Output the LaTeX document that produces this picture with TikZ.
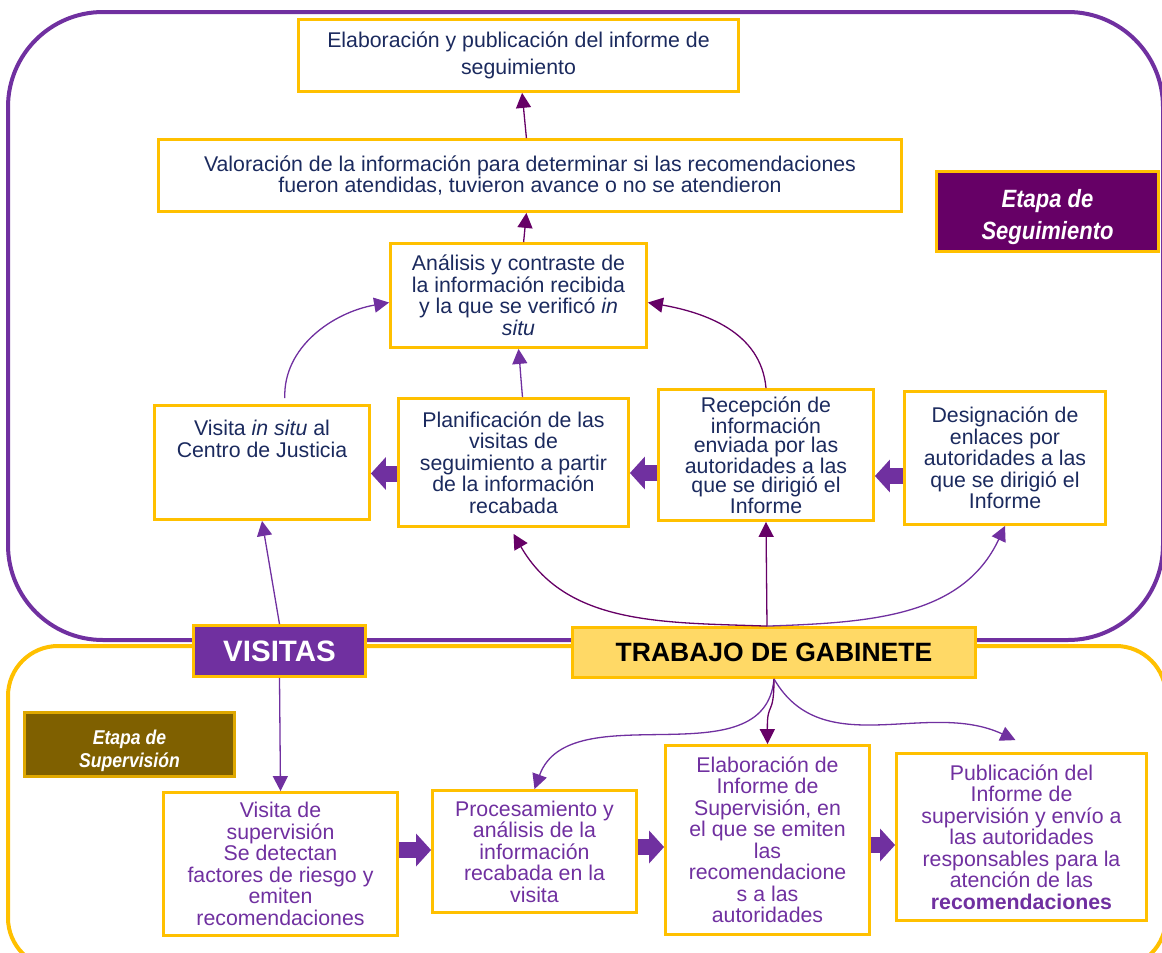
\documentclass[tikz,border=0pt]{standalone}
\usepackage{fontspec}
\setmainfont{Liberation Sans}
\newfontfamily\narrowfont[FakeStretch=0.88]{Liberation Sans}
\usetikzlibrary{arrows.meta}

\definecolor{purp}{HTML}{7030A0}
\definecolor{plum}{HTML}{660066}
\definecolor{gold}{HTML}{FFC000}
\definecolor{lightgold}{HTML}{FFD966}
\definecolor{olive}{HTML}{7F6000}
\definecolor{navy}{HTML}{1B2A5E}

\tikzset{
  box/.style={draw=gold, line width=2.8pt, fill=white, inner sep=0pt, align=center,
    text=navy, font=\fontsize{21.3}{21.5}\selectfont},
  supbox/.style={box, text=purp},
  tag/.style={draw=gold, line width=2.8pt, inner sep=0pt, align=center, text=white},
  linkd/.style={draw=plum, line width=1.3pt, -{Triangle[length=15pt,width=15pt]}},
  linkp/.style={draw=purp, line width=1.3pt, -{Triangle[length=15pt,width=15pt]}},
  fatarrow/.style={draw=purp, line width=16pt, -{Triangle[length=15pt,width=32pt]}},
}

\begin{document}
\begin{tikzpicture}[x=1pt,y=1pt]
\clip (0,0) rectangle (1162,-953);

% the two stages
\draw[purp, line width=4pt, rounded corners=95pt] (8,-12) rectangle (1163,-640);
\draw[gold, line width=4pt, rounded corners=50pt] (8,-646) rectangle (1166,-968);

% Etapa de Seguimiento
\node[box, minimum width=440pt, minimum height=72pt] (inf) at (518.5,-55.5)
  {Elaboración y publicación del informe de\\[5.5pt]seguimiento};
\node[box, minimum width=743pt, minimum height=72pt] (val) at (530,-175.5)
  {Valoración de la información para determinar si las recomendaciones\\fueron atendidas, tuvieron avance o no se atendieron};
\node[tag, fill=plum, minimum width=222pt, minimum height=80pt, text height=62pt,
  font=\narrowfont\bfseries\itshape\fontsize{25}{32}\selectfont] (etseg) at (1047.5,-211.5)
  {Etapa de\\Seguimiento};
\node[box, minimum width=256pt, minimum height=104pt] (anal) at (518.5,-295.5)
  {Análisis y contraste de\\la información recibida\\y la que se verificó \textit{in}\\\textit{situ}};
\node[box, minimum width=215pt, minimum height=114pt, text depth=47pt] (visin) at (262,-462.5)
  {Visita \textit{in situ} al\\Centro de Justicia};
\node[box, minimum width=230pt, minimum height=128pt] (plan) at (513.5,-462.5)
  {Planificación de las\\visitas de\\seguimiento a partir\\de la información\\recabada};
\node[box, minimum width=215pt, minimum height=131pt, font=\fontsize{21.3}{19}\selectfont] (recep) at (766,-455)
  {Recepción de\\información\\enviada por las\\autoridades a las\\que se dirigió el\\Informe};
\node[box, minimum width=201pt, minimum height=133pt] (desig) at (1005,-458)
  {Designación de\\enlaces por\\autoridades a las\\que se dirigió el\\Informe};

% cabeceras
\node[tag, fill=purp, minimum width=172pt, minimum height=51pt,
  font=\bfseries\fontsize{29.5}{30}\selectfont] (vis) at (279.5,-651) {VISITAS};
\node[tag, fill=lightgold, text=black, minimum width=403pt, minimum height=50pt,
  font=\bfseries\fontsize{26.5}{28}\selectfont] (gab) at (774,-652.5) {TRABAJO DE GABINETE};

% Etapa de Supervision
\node[tag, draw=gold!75!olive, fill=olive, minimum width=210pt, minimum height=64pt, text height=50pt,
  font=\narrowfont\bfseries\itshape\fontsize{20}{23}\selectfont] (etsup) at (129.5,-744.5)
  {Etapa de\\Supervisión};
\node[supbox, minimum width=234pt, minimum height=143pt] (vsup) at (280.5,-864)
  {Visita de\\supervisión\\Se detectan\\factores de riesgo y\\emiten\\recomendaciones};
\node[supbox, minimum width=204pt, minimum height=122pt] (proc) at (534.5,-851.5)
  {Procesamiento y\\análisis de la\\información\\recabada en la\\visita};
\node[supbox, minimum width=204pt, minimum height=189pt] (elab) at (767.5,-840)
  {Elaboración de\\Informe de\\Supervisión, en\\el que se emiten\\las\\recomendacione\\s a las\\autoridades};
\node[supbox, minimum width=250pt, minimum height=167pt] (pub) at (1021.5,-837)
  {Publicación del\\Informe de\\supervisión y envío a\\las autoridades\\responsables para la\\atención de las\\\textbf{recomendaciones}};

% flechas
\draw[linkd] (val) -- (inf);
\draw[linkd] (anal) -- (val);
\draw[linkp] ([xshift=9pt]plan.north) to[out=95,in=-85] (anal.south);
\draw[linkp, shorten <=6pt] ([xshift=23pt]visin.north) to[out=92,in=190] ([yshift=-7pt]anal.west);
\draw[linkd] (recep.north) to[out=95,in=-10] ([yshift=-7pt]anal.east);

\draw[fatarrow] ([yshift=-11pt]plan.west) -- (visin.east |- 0,-473.5);
\draw[fatarrow] (recep.west |- 0,-473) -- (plan.east |- 0,-473);
\draw[fatarrow] (desig.west |- 0,-476) -- (recep.east |- 0,-476);

\draw[linkd] ([xshift=-7pt]gab.north) to[out=178,in=-60] ([yshift=-6pt]plan.south);
\draw[linkd] ([xshift=-7pt]gab.north) -- (recep.south);
\draw[linkp] ([xshift=-7pt]gab.north) to[out=2,in=-115] (desig.south);

\draw[linkp] (vis.north) -- (visin.south);
\draw[linkp] (vis.south) -- (vsup.north);

\draw[linkp] (gab.south) to[out=-95,in=70] (proc.north);
\draw[linkd] (gab.south) .. controls (774,-718) and (767,-700) .. (elab.north);
\draw[linkp] (gab.south) to[out=-60,in=155] ([shift={(-6pt,12pt)}]pub.north);

\draw[fatarrow] (vsup.east |- 0,-850) -- (proc.west |- 0,-850);
\draw[fatarrow] (proc.east |- 0,-847) -- (elab.west |- 0,-847);
\draw[fatarrow] (elab.east |- 0,-845) -- (pub.west |- 0,-845);
\end{tikzpicture}
\end{document}
